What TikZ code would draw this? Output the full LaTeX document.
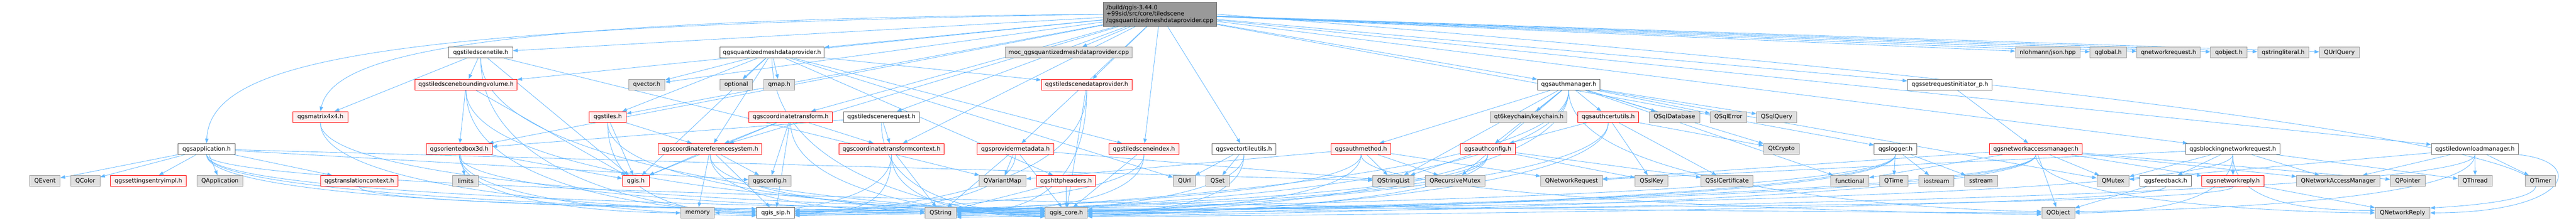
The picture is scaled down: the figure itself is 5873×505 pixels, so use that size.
\documentclass[tikz,border=0pt]{standalone}
\usepackage{fontspec}
\setmainfont{DejaVu Sans}
\usetikzlibrary{arrows.meta}
\pgfdeclarelayer{back}
\pgfdeclarelayer{edges}
\pgfsetlayers{back,edges,main}
\definecolor{edgecol}{HTML}{63B8FF}
\definecolor{redfill}{HTML}{FFF0F0}
\definecolor{grayfill}{HTML}{E0E0E0}
\definecolor{grayline}{HTML}{999999}
\definecolor{darkline}{HTML}{666666}
\definecolor{mainfill}{HTML}{999999}
\tikzset{
  box/.style={draw, line width=0.8pt, inner sep=0pt, minimum height=18.75pt, font=\fontsize{10}{12}\selectfont, text=black},
  gn/.style={box, draw=grayline, fill=grayfill},
  rn/.style={box, draw=red, fill=redfill},
  wn/.style={box, draw=darkline, fill=white},
  mn/.style={box, draw=darkline, fill=mainfill, align=left, font=\fontsize{10}{11.25}\selectfont},
  edg/.style={draw=edgecol, line width=0.75pt, -{Triangle[length=8pt,width=6pt]}}
}
\newcommand\mknode[6]{\node[#1, minimum width={(#4-#3)*0.75pt}] (#2) at ({(#3+#4)/2},#5) {#6};}
% bottom-routed connectors: source, drop, target (entering from the left / right)
\newcommand\edgeR[3]{\draw[edg] (#1.south) .. controls +(0,#2) and +(-147,0) .. (#3);}
\newcommand\edgeL[3]{\draw[edg] (#1.south) .. controls +(0,#2) and +(147,0) .. (#3);}
\begin{document}
\begin{tikzpicture}[x=0.75pt,y=-0.75pt]
\begin{pgfonlayer}{back}
\fill[white] (0,0) rectangle (5873,505);
\end{pgfonlayer}
\useasboundingbox (0,0) rectangle (5873,505);
% row 1
\node[mn, minimum width=194.25pt, minimum height=41.25pt] (main) at (2644.5,32.5) {/build/qgis-3.44.0\\+99sid/src/core/tiledscene\\/qgsquantizedmeshdataprovider.cpp};
% row 2
\mknode{wn}{tile}{1023}{1169}{120}{qgstiledscenetile.h}
\mknode{wn}{qmh}{1641}{1879}{120}{qgsquantizedmeshdataprovider.h}
\mknode{gn}{moc}{2292}{2581}{120}{moc\_qgsquantizedmeshdataprovider.cpp}
\mknode{gn}{json}{4595}{4742}{120}{nlohmann/json.hpp}
\mknode{gn}{qglobal}{4765}{4848}{120}{qglobal.h}
\mknode{gn}{qnetreq}{4872}{5016}{120}{qnetworkrequest.h}
\mknode{gn}{qobjecth}{5040}{5123}{120}{qobject.h}
\mknode{gn}{qstrlit}{5147}{5264}{120}{qstringliteral.h}
\mknode{gn}{qurlquery}{5288}{5379}{120}{QUrlQuery}
% row 3
\mknode{rn}{bvol}{946}{1179}{193.5}{qgstiledsceneboundingvolume.h}
\mknode{gn}{qvector}{1433}{1516}{193.5}{qvector.h}
\mknode{gn}{optional}{1641}{1716}{193.5}{optional}
\mknode{gn}{qmap}{1741}{1812}{193.5}{qmap.h}
\mknode{rn}{tsdp}{2374}{2581}{193.5}{qgstiledscenedataprovider.h}
\mknode{wn}{authmgr}{3505}{3648}{193.5}{qgsauthmanager.h}
\mknode{wn}{setreq}{4349}{4542}{193.5}{qgssetrequestinitiator\_p.h}
% row 4
\mknode{rn}{matrix}{668}{793}{267.5}{qgsmatrix4x4.h}
\mknode{rn}{tiles}{1343}{1428}{267.5}{qgstiles.h}
\mknode{rn}{ct}{1707}{1898}{267.5}{qgscoordinatetransform.h}
\mknode{wn}{tsreq}{1923}{2096}{267.5}{qgstiledscenerequest.h}
\mknode{gn}{keychain}{3398}{3573}{267.5}{qt6keychain/keychain.h}
\mknode{rn}{certutils}{3597}{3736}{267.5}{qgsauthcertutils.h}
\mknode{gn}{sqldb}{3760}{3875}{267.5}{QSqlDatabase}
\mknode{gn}{sqlerr}{3899}{3982}{267.5}{QSqlError}
\mknode{gn}{sqlquery}{4005}{4096}{267.5}{QSqlQuery}
% row 5
\mknode{wn}{app}{406}{536}{340.5}{qgsapplication.h}
\mknode{rn}{obox}{972}{1122}{340.5}{qgsorientedbox3d.h}
\mknode{rn}{crs}{1501}{1737}{340.5}{qgscoordinatereferencesystem.h}
\mknode{rn}{ctc}{1913}{2152}{340.5}{qgscoordinatetransformcontext.h}
\mknode{rn}{pmeta}{2228}{2402}{340.5}{qgsprovidermetadata.h}
\mknode{rn}{tsindex}{2528}{2688}{340.5}{qgstiledsceneindex.h}
\mknode{wn}{vtu}{2763}{2909}{340.5}{qgsvectortileutils.h}
\mknode{rn}{authmethod}{3035}{3171}{340.5}{qgsauthmethod.h}
\mknode{rn}{authconfig}{3329}{3455}{340.5}{qgsauthconfig.h}
\mknode{gn}{qtcrypto}{4021}{4102}{340.5}{QtCrypto}
\mknode{wn}{logger}{4273}{4370}{340.5}{qgslogger.h}
\mknode{rn}{nam}{4536}{4747}{340.5}{qgsnetworkaccessmanager.h}
\mknode{wn}{blocking}{4983}{5198}{340.5}{qgsblockingnetworkrequest.h}
\mknode{wn}{tdm}{5543}{5742}{340.5}{qgstiledownloadmanager.h}
% row 6
\mknode{gn}{qevent}{68}{137}{413.5}{QEvent}
\mknode{gn}{qcolor}{161}{228}{413.5}{QColor}
\mknode{rn}{settings}{252}{425}{413.5}{qgssettingsentryimpl.h}
\mknode{gn}{qapplication}{449}{554}{413.5}{QApplication}
\mknode{rn}{transctx}{731}{907}{413.5}{qgstranslationcontext.h}
\mknode{gn}{limits}{1032}{1091}{413.5}{limits}
\mknode{rn}{qgis}{1419}{1480}{413.5}{qgis.h}
\mknode{gn}{config}{1707}{1803}{413.5}{qgsconfig.h}
\mknode{gn}{qvariantmap}{2232}{2339}{413.5}{QVariantMap}
\mknode{rn}{httpheaders}{2363}{2498}{413.5}{qgshttpheaders.h}
\mknode{gn}{qurl}{2675}{2726}{413.5}{QUrl}
\mknode{gn}{qset}{2749}{2803}{413.5}{QSet}
\mknode{gn}{qstringlist}{3130}{3224}{413.5}{QStringList}
\mknode{gn}{qrecmutex}{3249}{3386}{413.5}{QRecursiveMutex}
\mknode{gn}{qnetrequest}{3513}{3653}{413.5}{QNetworkRequest}
\mknode{gn}{qsslkey}{3728}{3803}{413.5}{QSslKey}
\mknode{gn}{qsslcert}{3878}{3997}{413.5}{QSslCertificate}
\mknode{gn}{functional}{4174}{4261}{413.5}{functional}
\mknode{gn}{qtime}{4285}{4350}{413.5}{QTime}
\mknode{gn}{iostream}{4375}{4455}{413.5}{iostream}
\mknode{gn}{sstream}{4479}{4554}{413.5}{sstream}
\mknode{gn}{qmutex}{4781}{4854}{413.5}{QMutex}
\mknode{wn}{feedback}{4879}{4996}{413.5}{qgsfeedback.h}
\mknode{rn}{netreply}{5020}{5162}{413.5}{qgsnetworkreply.h}
\mknode{gn}{qnam}{5236}{5426}{413.5}{QNetworkAccessManager}
\mknode{gn}{qpointer}{5450}{5529}{413.5}{QPointer}
\mknode{gn}{qthread}{5604}{5682}{413.5}{QThread}
\mknode{gn}{qtimer}{5757}{5827}{413.5}{QTimer}
% row 7
\mknode{gn}{memory}{1552}{1629}{486.5}{memory}
\mknode{wn}{sip}{1725}{1812}{486.5}{qgis\_sip.h}
\mknode{gn}{qstring}{2109}{2180}{486.5}{QString}
\mknode{gn}{core}{2383}{2479}{486.5}{qgis\_core.h}
\mknode{gn}{qobject}{4655}{4730}{486.5}{QObject}
\mknode{gn}{qnetreply}{5415}{5540}{486.5}{QNetworkReply}

\begin{pgfonlayer}{edges}
% main file
\foreach \t in {qmh,moc,tile,bvol,tiles,qvector,obox,ct,crs,tsreq,ctc,pmeta,tsdp,tsindex,vtu,authmgr,setreq,logger,blocking,tdm,json,qglobal,qnetreq,qobjecth,qstrlit,qurlquery}
  \draw[edg] (main) -- (\t);
\draw[edg] (main.west) .. controls (1100,45) and (760,120) .. (matrix.north);
\draw[edg] (main.west) .. controls (900,60) and (480,130) .. (app.north);
\draw[edg] (main.east) .. controls (5700,260) and (6150,440) .. (qnetreply.10);
% qgsquantizedmeshdataprovider.h
\foreach \t in {qvector,optional,qmap,crs,tsdp,tsindex,tiles,qgis,httpheaders,qurl}
  \draw[edg] (qmh) -- (\t);
\edgeR{qmh}{293}{core.186}
% tile
\foreach \t in {bvol,matrix,qgis,qvariantmap}
  \draw[edg] (tile) -- (\t);
\edgeR{tile}{293}{core.176}
\edgeR{tile}{293}{sip.180}
% bounding volume
\foreach \t in {obox,qgis}
  \draw[edg] (bvol) -- (\t);
\edgeR{bvol}{240}{core.172}
\edgeR{bvol}{240}{sip.176}
% matrix
\edgeR{matrix}{173}{core.168}
\edgeR{matrix}{173}{sip.172}
% tiles
\foreach \t in {qgis,crs}
  \draw[edg] (tiles) -- (\t);
\edgeR{tiles}{173}{core.182}
\edgeR{tiles}{173}{sip.184}
% oriented box
\foreach \t in {limits,qgis}
  \draw[edg] (obox) -- (\t);
\edgeR{obox}{113}{core.178}
\edgeR{obox}{113}{sip.188}
\edgeR{obox}{113}{memory.180}
% application
\foreach \t in {qevent,qcolor,settings,qapplication,transctx,config,qstringlist}
  \draw[edg] (app) -- (\t);
\edgeR{app}{113}{core.170}
\edgeR{app}{113}{sip.168}
\edgeR{app}{113}{qobject.180}
\edgeR{app}{113}{qstring.180}
\edgeR{transctx}{53}{core.174}
% crs
\foreach \t in {qgis,config,memory,sip}
  \draw[edg] (crs) -- (\t);
\edgeR{crs}{113}{core.184}
\edgeR{crs}{113}{qstring.175}
% coordinate transform
\foreach \t in {crs,config,ctc,qgis,sip}
  \draw[edg] (ct) -- (\t);
\edgeR{ct}{173}{core.188}
% transform context
\draw[edg] (ctc) -- (qstring);
\edgeR{ctc}{113}{core.190}
\edgeL{ctc}{113}{sip.0}
\edgeL{ctc}{113}{memory.0}
% tiled scene request
\foreach \t in {ctc,obox}
  \draw[edg] (tsreq) -- (\t);
\edgeR{tsreq}{173}{core.180}
% tiled scene data provider
\draw[edg] (tsdp) -- (core);
\edgeL{tsdp}{240}{sip.4}
\edgeL{tsdp}{240}{qstring.0}
% provider metadata
\foreach \t in {qvariantmap,qstring,core,qstringlist}
  \draw[edg] (pmeta) -- (\t);
\edgeL{pmeta}{113}{sip.-4}
% http headers
\draw[edg] (httpheaders) -- (core);
\draw[edg] (httpheaders) -- (qstring);
% tiled scene index
\draw[edg] (tsindex) -- (core);
\edgeL{tsindex}{113}{sip.8}
\edgeL{tsindex}{113}{qstring.5}
% vector tile utils
\foreach \t in {qset,qurl}
  \draw[edg] (vtu) -- (\t);
\edgeL{vtu}{113}{core.2}
\edgeL{vtu}{113}{qstring.-5}
% auth manager
\foreach \t in {keychain,certutils,sqldb,sqlerr,sqlquery,qtcrypto,authmethod,authconfig,qstringlist,qrecmutex,functional,qmutex}
  \draw[edg] (authmgr) -- (\t);
\edgeL{authmgr}{240}{core.-2}
\edgeL{authmgr}{240}{sip.-8}
\edgeL{authmgr}{240}{qstring.10}
\edgeR{authmgr}{240}{qobject.175}
% auth cert utils
\foreach \t in {authconfig,qsslcert,qsslkey,qtcrypto}
  \draw[edg] (certutils) -- (\t);
\edgeL{certutils}{173}{core.-6}
\edgeL{certutils}{173}{qstring.-10}
% auth method
\foreach \t in {qstringlist,qrecmutex,qnetrequest,qvariantmap}
  \draw[edg] (authmethod) -- (\t);
\edgeL{authmethod}{113}{core.6}
\edgeL{authmethod}{113}{sip.2}
\edgeR{authmethod}{113}{qobject.185}
% auth config
\foreach \t in {qstringlist,qsslkey,qsslcert}
  \draw[edg] (authconfig) -- (\t);
\edgeL{authconfig}{113}{core.-4}
\edgeL{authconfig}{113}{qstring.15}
\edgeL{authconfig}{113}{sip.-2}
% logger
\foreach \t in {qtime,iostream,sstream}
  \draw[edg] (logger) -- (\t);
\edgeL{logger}{113}{qstring.-15}
\edgeL{logger}{113}{core.4}
\edgeL{logger}{113}{sip.6}
% request initiator
\draw[edg] (setreq) -- (nam);
% network access manager
\foreach \t in {qmutex,qnam,netreply,qpointer,functional,qnetrequest,qobject}
  \draw[edg] (nam) -- (\t);
\edgeL{nam}{113}{core.-8}
\edgeL{nam}{113}{sip.-6}
\edgeL{nam}{113}{qstring.3}
\edgeR{nam}{113}{qnetreply.180}
% blocking request
\foreach \t in {feedback,netreply,qnam,qthread,qmutex,qnetrequest}
  \draw[edg] (blocking) -- (\t);
\edgeL{blocking}{113}{qobject.0}
\edgeL{blocking}{113}{core.8}
\edgeR{blocking}{113}{qnetreply.175}
% feedback, reply
\draw[edg] (feedback) -- (qobject);
\edgeL{feedback}{53}{core.-10}
\draw[edg] (netreply) -- (qnetreply);
\edgeL{netreply}{53}{core.10}
% tile download manager
\foreach \t in {qnam,qthread,qtimer,qmutex}
  \draw[edg] (tdm) -- (\t);
\edgeL{tdm}{113}{qobject.5}
\edgeL{tdm}{113}{core.0}
\draw[edg] (tdm.south east) .. controls (5900,370) and (5860,486) .. (qnetreply.east);
\end{pgfonlayer}
\end{tikzpicture}
\end{document}
